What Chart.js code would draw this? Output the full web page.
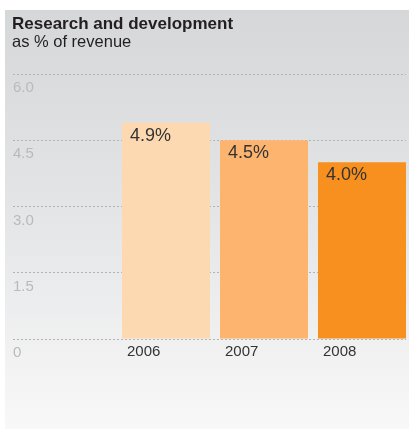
<!DOCTYPE html>
<html>
<head>
<meta charset="utf-8">
<script src="https://cdn.jsdelivr.net/npm/chart.js@4"></script>
<style>
  html, body { margin: 0; padding: 0; background: #fff; overflow: hidden; }
  #wrap { position: relative; width: 409px; height: 429px; }
</style>
</head>
<body>
<div id="wrap"><canvas id="rdChart" width="409" height="429"></canvas></div>
<script>
const years = [2006, 2007, 2008];
const rdShare = [4.9, 4.5, 4.0];
const barColors = ["#fcd9b1", "#fdb46e", "#f7901e"];
const yTicks = [0, 1.5, 3.0, 4.5, 6.0];

const FONT = "'Liberation Sans', Arial, sans-serif";

// grey panel + heading behind the chart
const panelBg = {
    id: "panelBg",
    beforeDraw(chart) {
        const ctx = chart.ctx;
        ctx.save();
        ctx.fillStyle = "#ffffff";
        ctx.fillRect(0, 0, chart.width, chart.height);
        const g = ctx.createLinearGradient(0, 10, 0, chart.height);
        g.addColorStop(0, "#d6d7d9");
        g.addColorStop(0.45, "#e3e4e6");
        g.addColorStop(1, "#f8f8f8");
        ctx.fillStyle = g;
        ctx.fillRect(5, 10, chart.width - 5, chart.height - 10);

        ctx.fillStyle = "#231f20";
        ctx.textBaseline = "alphabetic";
        ctx.font = "bold 17px " + FONT;
        ctx.fillText("Research and development", 12, 29);
        ctx.font = "16.5px " + FONT;
        ctx.fillText("as % of revenue", 12, 47);
        ctx.restore();
    }
};

// value text in the top-left corner of each bar
const barValues = {
    id: "barValues",
    afterDatasetsDraw(chart) {
        const ctx = chart.ctx;
        const meta = chart.getDatasetMeta(0);
        ctx.save();
        ctx.fillStyle = "#333333";
        ctx.font = "18px " + FONT;
        ctx.textBaseline = "top";
        ctx.textAlign = "left";
        meta.data.forEach((bar, i) => {
            ctx.fillText(rdShare[i].toFixed(1) + "%", bar.x - bar.width / 2 + 8, bar.y + 4);
        });
        ctx.restore();
    }
};

new Chart(document.getElementById("rdChart"), {
    type: "bar",
    data: {
        datasets: [{
            data: years.map((yr, i) => ({x: yr, y: rdShare[i]})),
            backgroundColor: barColors,
            borderWidth: 0,
            barPercentage: 0.898,
            categoryPercentage: 1
        }]
    },
    options: {
        responsive: false,
        animation: false,
        layout: {padding: {left: 13, right: 3, top: 74, bottom: 72}},
        plugins: {
            legend: {display: false},
            tooltip: {enabled: false}
        },
        scales: {
            x: {
                type: "linear",
                offset: false,
                min: 2004.439,
                max: 2008.449,
                afterBuildTicks: (axis) => { axis.ticks = years.map(v => ({value: v})); },
                grid: {display: false},
                border: {display: false},
                ticks: {
                    align: "start",
                    labelOffset: -39,
                    padding: -4,
                    color: "#333333",
                    font: {family: FONT, size: 15},
                    callback: (v) => String(v)
                }
            },
            y: {
                min: 0,
                max: 6,
                afterBuildTicks: (axis) => { axis.ticks = yTicks.map(v => ({value: v})); },
                border: {display: false, dash: [2, 2]},
                grid: {
                    color: "#b2b3b5",
                    lineWidth: 1,
                    drawTicks: false
                },
                ticks: {
                    mirror: true,
                    padding: 0,
                    labelOffset: 14,
                    color: "#b9babc",
                    font: {family: FONT, size: 15},
                    callback: (v) => v === 0 ? "0" : v.toFixed(1)
                }
            }
        }
    },
    plugins: [panelBg, barValues]
});
</script>
</body>
</html>
